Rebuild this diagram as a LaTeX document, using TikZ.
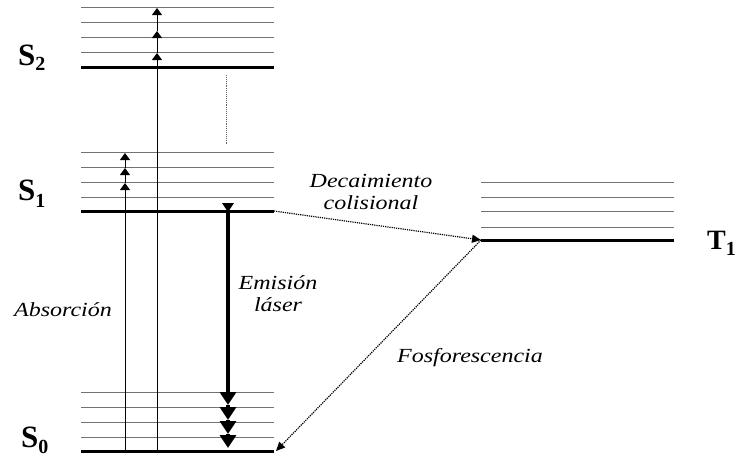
\documentclass[tikz,border=0pt]{standalone}
\usepackage{fontspec}
\setmainfont{Liberation Serif}
\newfontfamily\labfont[FakeStretch=1.2]{Liberation Serif}
\usetikzlibrary{arrows.meta}
\tikzset{
  thinlvl/.style={draw=black!55, line width=1pt},
  thicklvl/.style={draw=black, line width=3pt},
  absline/.style={draw=black, line width=0.9pt, -{Triangle[length=7pt,width=10pt]}},
  emisline/.style={draw=black, line width=4pt, -{Triangle[length=13pt,width=16pt]}},
  dotarrow/.style={draw=black, line width=1.2pt, densely dotted, -{Triangle[length=9pt,width=8pt]}},
  lbl/.style={font=\labfont\itshape\fontsize{20}{22}\selectfont, align=center, inner sep=0pt},
  statelbl/.style={font=\bfseries\fontsize{31}{31}\selectfont, anchor=base west, inner sep=0pt},
}
\newcommand{\sub}[2][5pt]{\raisebox{-#1}{\fontsize{20}{20}\selectfont #2}}
\begin{document}
\begin{tikzpicture}[x=1pt,y=-1pt]
\useasboundingbox (0,0) rectangle (739,456);
\clip (0,0) rectangle (739,456);
% S2 levels
\foreach \y in {7,22,37,52} \draw[thinlvl] (81,\y) -- (274,\y);
\draw[thicklvl] (81,67) -- (274,67);
% S1 levels
\foreach \y in {152,167,182,197} \draw[thinlvl] (81,\y) -- (274,\y);
\draw[thicklvl] (81,211) -- (274,211);
% S0 levels
\foreach \y in {392,407,422,437} \draw[thinlvl] (81,\y) -- (274,\y);
\draw[thicklvl] (81,451) -- (274,451);
% T1 levels
\foreach \y in {182,197,211,227} \draw[thinlvl] (481,\y) -- (674,\y);
\draw[thicklvl] (481,240) -- (674,240);
% coordinates
\coordinate (S1R) at (274,211);
\coordinate (T1L) at (481,240);
\coordinate (S0R) at (276,451);
\coordinate (A0) at (125,451);
\coordinate (A1) at (125,183);
\coordinate (A2) at (125,168);
\coordinate (A3) at (125,153);
\coordinate (B0) at (157,451);
\coordinate (B1) at (157,53);
\coordinate (B2) at (157,31);
\coordinate (B3) at (157,8);
\coordinate (E0) at (228,211);
\coordinate (E1) at (228,405);
\coordinate (E2) at (228,420);
\coordinate (E3) at (228,434);
\coordinate (E4) at (228,448);
% absorption
\draw[absline] (A0) -- (A1);
\draw[absline] (A1) -- (A2);
\draw[absline] (A2) -- (A3);
\draw[absline] (B0) -- (B1);
\draw[absline] (B1) -- (B2);
\draw[absline] (B2) -- (B3);
% emission
\fill (222,203) -- (234,203) -- (228,212) -- cycle;
\draw[emisline] (E0) -- (E1);
\draw[emisline] (E1) -- (E2);
\draw[emisline] (E2) -- (E3);
\draw[emisline] (E3) -- (E4);
% vertical dotted line
\coordinate (V0) at (226,75);
\coordinate (V1) at (226,145);
\draw[black!60, line width=0.9pt, densely dotted] (V0) -- (V1);
% dotted transitions
\draw[dotarrow] (S1R) -- (T1L);
\draw[dotarrow] (T1L) -- (S0R);
% labels
\node[lbl] (abs) at (63,310) {Absorción};
\node[lbl] (emi) at (278,294) {Emisión\\láser};
\node[lbl] (dec) at (371,192) {Decaimiento\\colisional};
\node[lbl] (fos) at (470,358) {Fosforescencia};
\node[statelbl] (s2) at (18,65) {S\sub{2}};
\node[statelbl] (s1) at (18,200) {S\sub[7pt]{1}};
\node[statelbl] (s0) at (21,447) {S\sub[6pt]{0}};
\node[font=\bfseries\fontsize{28}{28}\selectfont, anchor=base west, inner sep=0pt] (t1) at (707,249) {T\sub[6pt]{1}};
\end{tikzpicture}
\end{document}
